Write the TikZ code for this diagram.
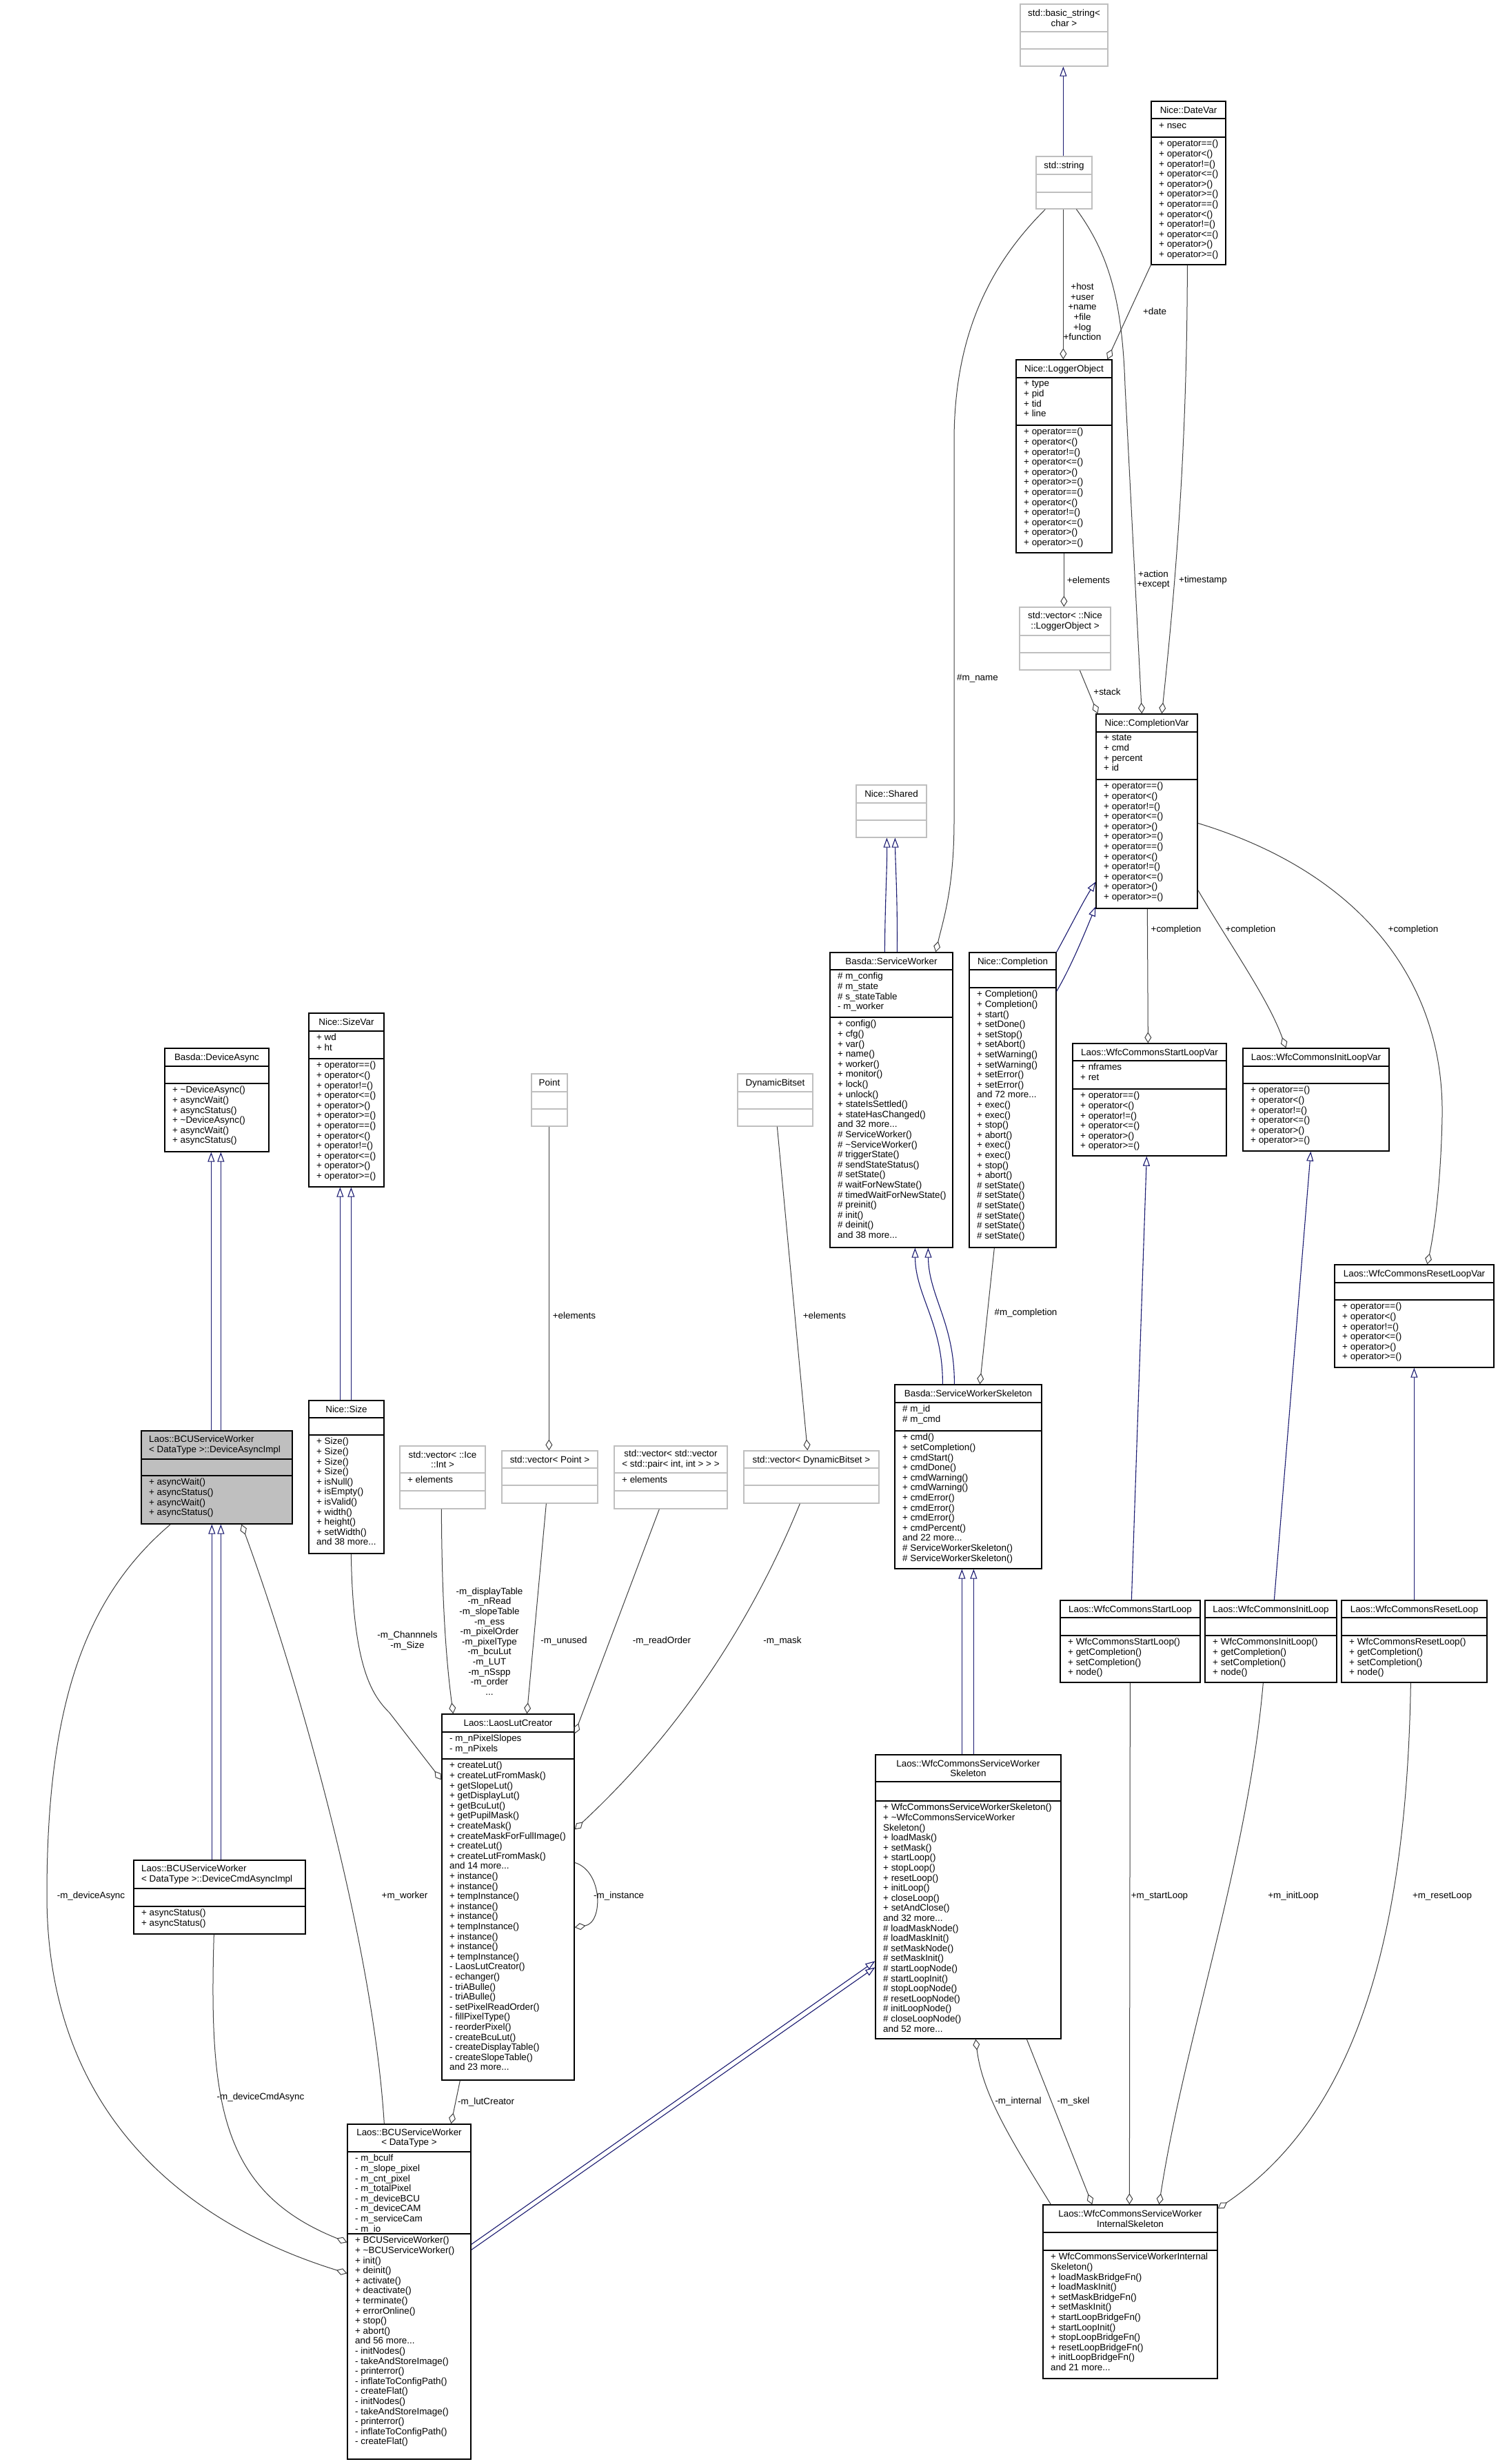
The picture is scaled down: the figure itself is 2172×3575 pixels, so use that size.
\documentclass[tikz,border=0pt]{standalone}
\usepackage{fontspec}
\setmainfont{Liberation Sans}
\usetikzlibrary{arrows.meta,fit}
\definecolor{inhblue}{RGB}{25,25,112}
\definecolor{edgegrey}{RGB}{64,64,64}
\definecolor{boxgrey}{RGB}{191,191,191}
\definecolor{hlfill}{RGB}{191,191,191}
\newcommand{\fs}{\fontsize{13.4}{14.6}\selectfont}
\newcommand{\opsA}{+ operator==()\\+ operator<()\\+ operator!=()\\+ operator<=()\\+ operator>()\\+ operator>=()}
\newcommand{\opsB}{\opsA\\\opsA}
\newcommand{\clsbox}[8]{%
  \node[#2, fit={(#3,#4) (#5,#6)}, inner sep=0pt] (#1) {};
  \draw[#2] (#3,#7) -- (#5,#7);
  \draw[#2] (#3,#8) -- (#5,#8);
}
\tikzset{
  cb/.style={draw=black, line width=1.3pt, fill=white},
  cg/.style={draw=boxgrey, line width=1.3pt, fill=white},
  ch/.style={draw=black, line width=1.3pt, fill=hlfill},
  ttl/.style={font=\fs, inner sep=0pt, align=center},
  ttlone/.style={font=\fs, inner sep=0pt, text height=9.6pt, text depth=0pt},
  txt/.style={font=\fs, inner sep=0pt, align=left, anchor=north west, execute at begin node=\strut},
  lab/.style={font=\fs, inner sep=0pt, align=center},
  inh/.style={draw=inhblue, line width=1.1pt, -{Triangle[open, length=14pt, width=10pt]}},
  comp/.style={draw=edgegrey, line width=1pt, -{Diamond[open, length=16pt, width=10pt]}},
}
\begin{document}
\begin{tikzpicture}[x=1pt,y=-1pt]
\useasboundingbox (0,0) rectangle (2172,3575);
\fill[white] (0,0) rectangle (2172,3575);

% ---------------- boxes ----------------
\clsbox{bstr}{cg}{1480}{6}{1607}{96}{46}{71}
\node[ttl] (bstr-t) at (1543.5,26) {std::basic\_string<\\char >};

\clsbox{str}{cg}{1503}{227}{1584}{303}{253}{279}
\node[ttlone] (str-t) at (1543.5,240) {std::string};

\clsbox{date}{cb}{1670}{147}{1778}{384}{172}{199}
\node[ttlone] (date-t) at (1724,159.5) {Nice::DateVar};
\node[txt] (date-a) at (1681,176) {+ nsec};
\node[txt] (date-m) at (1681,203) {\opsB};

\clsbox{log}{cb}{1474}{522}{1613}{802}{548}{617}
\node[ttlone] (log-t) at (1543.5,535) {Nice::LoggerObject};
\node[txt] (log-a) at (1485,552) {+ type\\+ pid\\+ tid\\+ line};
\node[txt] (log-m) at (1485,621) {\opsB};

\clsbox{vlog}{cg}{1479}{881}{1611}{972}{922}{947}
\node[ttl] (vlog-t) at (1545,901.5) {std::vector< ::Nice\\::LoggerObject >};

\clsbox{cv}{cb}{1590}{1036}{1737}{1318}{1062}{1131}
\node[ttlone] (cv-t) at (1663.5,1049) {Nice::CompletionVar};
\node[txt] (cv-a) at (1601,1066) {+ state\\+ cmd\\+ percent\\+ id};
\node[txt] (cv-m) at (1601,1135) {\opsB};

\clsbox{shared}{cg}{1242}{1139}{1344}{1215}{1165}{1190}
\node[ttlone] (shared-t) at (1293,1152) {Nice::Shared};

\clsbox{sw}{cb}{1204}{1382}{1382}{1810}{1407}{1476}
\node[ttlone] (sw-t) at (1293,1394.5) {Basda::ServiceWorker};
\node[txt] (sw-a) at (1215,1411) {\# m\_config\\\# m\_state\\\# s\_stateTable\\- m\_worker};
\node[txt] (sw-m) at (1215,1480) {+ config()\\+ cfg()\\+ var()\\+ name()\\+ worker()\\+ monitor()\\+ lock()\\+ unlock()\\+ stateIsSettled()\\+ stateHasChanged()\\and 32 more...\\\# ServiceWorker()\\\# \textasciitilde ServiceWorker()\\\# triggerState()\\\# sendStateStatus()\\\# setState()\\\# waitForNewState()\\\# timedWaitForNewState()\\\# preinit()\\\# init()\\\# deinit()\\and 38 more...};

\clsbox{comp}{cb}{1406}{1382}{1532}{1810}{1407}{1433}
\node[ttlone] (comp-t) at (1469,1394.5) {Nice::Completion};
\node[txt] (comp-m) at (1417,1437) {+ Completion()\\+ Completion()\\+ start()\\+ setDone()\\+ setStop()\\+ setAbort()\\+ setWarning()\\+ setWarning()\\+ setError()\\+ setError()\\and 72 more...\\+ exec()\\+ exec()\\+ stop()\\+ abort()\\+ exec()\\+ exec()\\+ stop()\\+ abort()\\\# setState()\\\# setState()\\\# setState()\\\# setState()\\\# setState()\\\# setState()};

\clsbox{sla}{cb}{239}{1521}{390}{1671}{1547}{1572}
\node[ttlone] (sla-t) at (314.5,1534) {Basda::DeviceAsync};
\node[txt] (sla-m) at (250,1576) {+ \textasciitilde DeviceAsync()\\+ asyncWait()\\+ asyncStatus()\\+ \textasciitilde DeviceAsync()\\+ asyncWait()\\+ asyncStatus()};

\clsbox{szv}{cb}{448}{1470}{557}{1722}{1496}{1536}
\node[ttlone] (szv-t) at (502.5,1483) {Nice::SizeVar};
\node[txt] (szv-a) at (459,1500) {+ wd\\+ ht};
\node[txt] (szv-m) at (459,1540) {\opsB};

\clsbox{sz}{cb}{448}{2032}{557}{2254}{2057}{2082}
\node[ttlone] (sz-t) at (502.5,2044.5) {Nice::Size};
\node[txt] (sz-m) at (459,2086) {+ Size()\\+ Size()\\+ Size()\\+ Size()\\+ isNull()\\+ isEmpty()\\+ isValid()\\+ width()\\+ height()\\+ setWidth()\\and 38 more...};

\clsbox{dai}{ch}{205}{2076}{424}{2211}{2117}{2141}
\node[ttl, align=left, anchor=west] (dai-t) at (216,2096.5) {Laos::BCUServiceWorker\\< DataType >::DeviceAsyncImpl};
\node[txt] (dai-m) at (216,2145) {+ asyncWait()\\+ asyncStatus()\\+ asyncWait()\\+ asyncStatus()};

\clsbox{dcai}{cb}{194}{2699}{443}{2806}{2740}{2766}
\node[ttl, align=left, anchor=west] (dcai-t) at (205,2719.5) {Laos::BCUServiceWorker\\< DataType >::DeviceCmdAsyncImpl};
\node[txt] (dcai-m) at (205,2770) {+ asyncStatus()\\+ asyncStatus()};

\clsbox{pt}{cg}{771}{1558}{823}{1634}{1584}{1609}
\node[ttlone] (pt-t) at (797,1571) {Point};

\clsbox{dbs}{cg}{1070}{1558}{1179}{1634}{1584}{1609}
\node[ttlone] (dbs-t) at (1124.5,1571) {DynamicBitset};

\clsbox{vint}{cg}{580}{2098}{704}{2189}{2137}{2163}
\node[ttl] (vint-t) at (642,2117.5) {std::vector< ::Ice\\::Int >};
\node[txt] (vint-a) at (591,2141) {+ elements};

\clsbox{vpt}{cg}{728}{2105}{867}{2181}{2130}{2155}
\node[ttlone] (vpt-t) at (797.5,2117.5) {std::vector< Point >};

\clsbox{vpair}{cg}{891}{2098}{1055}{2189}{2137}{2163}
\node[ttl] (vpair-t) at (973,2117.5) {std::vector< std::vector\\< std::pair< int, int > > >};
\node[txt] (vpair-a) at (902,2141) {+ elements};

\clsbox{vdbs}{cg}{1079}{2105}{1275}{2181}{2130}{2155}
\node[ttlone] (vdbs-t) at (1177,2117.5) {std::vector< DynamicBitset >};

\clsbox{lut}{cb}{641}{2487}{833}{3018}{2513}{2552}
\node[ttlone] (lut-t) at (737,2500) {Laos::LaosLutCreator};
\node[txt] (lut-a) at (652,2517) {- m\_nPixelSlopes\\- m\_nPixels};
\node[txt] (lut-m) at (652,2556) {+ createLut()\\+ createLutFromMask()\\+ getSlopeLut()\\+ getDisplayLut()\\+ getBcuLut()\\+ getPupilMask()\\+ createMask()\\+ createMaskForFullImage()\\+ createLut()\\+ createLutFromMask()\\and 14 more...\\+ instance()\\+ instance()\\+ tempInstance()\\+ instance()\\+ instance()\\+ tempInstance()\\+ instance()\\+ instance()\\+ tempInstance()\\- LaosLutCreator()\\- echanger()\\- triABulle()\\- triABulle()\\- setPixelReadOrder()\\- fillPixelType()\\- reorderPixel()\\- createBcuLut()\\- createDisplayTable()\\- createSlopeTable()\\and 23 more...};

\clsbox{bcu}{cb}{504}{3082}{683}{3568}{3122}{3241}
\node[ttl] (bcu-t) at (593.5,3102) {Laos::BCUServiceWorker\\< DataType >};
\node[txt] (bcu-a) at (515,3126) {- m\_bculf\\- m\_slope\_pixel\\- m\_cnt\_pixel\\- m\_totalPixel\\- m\_deviceBCU\\- m\_deviceCAM\\- m\_serviceCam\\- m\_io};
\node[txt] (bcu-m) at (515,3245) {+ BCUServiceWorker()\\+ \textasciitilde BCUServiceWorker()\\+ init()\\+ deinit()\\+ activate()\\+ deactivate()\\+ terminate()\\+ errorOnline()\\+ stop()\\+ abort()\\and 56 more...\\- initNodes()\\- takeAndStoreImage()\\- printerror()\\- inflateToConfigPath()\\- createFlat()\\- initNodes()\\- takeAndStoreImage()\\- printerror()\\- inflateToConfigPath()\\- createFlat()};

\clsbox{sws}{cb}{1298}{2009}{1511}{2276}{2035}{2076}
\node[ttlone] (sws-t) at (1404.5,2022) {Basda::ServiceWorkerSkeleton};
\node[txt] (sws-a) at (1309,2039) {\# m\_id\\\# m\_cmd};
\node[txt] (sws-m) at (1309,2080) {+ cmd()\\+ setCompletion()\\+ cmdStart()\\+ cmdDone()\\+ cmdWarning()\\+ cmdWarning()\\+ cmdError()\\+ cmdError()\\+ cmdError()\\+ cmdPercent()\\and 22 more...\\\# ServiceWorkerSkeleton()\\\# ServiceWorkerSkeleton()};

\clsbox{wfc}{cb}{1270}{2546}{1539}{2958}{2585}{2613}
\node[ttl] (wfc-t) at (1404.5,2565.5) {Laos::WfcCommonsServiceWorker\\Skeleton};
\node[txt] (wfc-m) at (1281,2617) {+ WfcCommonsServiceWorkerSkeleton()\\+ \textasciitilde WfcCommonsServiceWorker\\Skeleton()\\+ loadMask()\\+ setMask()\\+ startLoop()\\+ stopLoop()\\+ resetLoop()\\+ initLoop()\\+ closeLoop()\\+ setAndClose()\\and 32 more...\\\# loadMaskNode()\\\# loadMaskInit()\\\# setMaskNode()\\\# setMaskInit()\\\# startLoopNode()\\\# startLoopInit()\\\# stopLoopNode()\\\# resetLoopNode()\\\# initLoopNode()\\\# closeLoopNode()\\and 52 more...};

\clsbox{slv}{cb}{1556}{1514}{1779}{1677}{1539}{1580}
\node[ttlone] (slv-t) at (1667.5,1526.5) {Laos::WfcCommonsStartLoopVar};
\node[txt] (slv-a) at (1567,1543) {+ nframes\\+ ret};
\node[txt] (slv-m) at (1567,1584) {\opsA};

\clsbox{ilv}{cb}{1803}{1521}{2015}{1670}{1547}{1572}
\node[ttlone] (ilv-t) at (1909,1534) {Laos::WfcCommonsInitLoopVar};
\node[txt] (ilv-m) at (1814,1576) {\opsA};

\clsbox{rlv}{cb}{1936}{1835}{2167}{1984}{1861}{1886}
\node[ttlone] (rlv-t) at (2051.5,1848) {Laos::WfcCommonsResetLoopVar};
\node[txt] (rlv-m) at (1947,1890) {\opsA};

\clsbox{sl}{cb}{1538}{2322}{1741}{2441}{2347}{2373}
\node[ttlone] (sl-t) at (1639.5,2334.5) {Laos::WfcCommonsStartLoop};
\node[txt] (sl-m) at (1549,2377) {+ WfcCommonsStartLoop()\\+ getCompletion()\\+ setCompletion()\\+ node()};

\clsbox{il}{cb}{1748}{2322}{1939}{2441}{2347}{2373}
\node[ttlone] (il-t) at (1843.5,2334.5) {Laos::WfcCommonsInitLoop};
\node[txt] (il-m) at (1759,2377) {+ WfcCommonsInitLoop()\\+ getCompletion()\\+ setCompletion()\\+ node()};

\clsbox{rl}{cb}{1946}{2322}{2157}{2441}{2347}{2373}
\node[ttlone] (rl-t) at (2051.5,2334.5) {Laos::WfcCommonsResetLoop};
\node[txt] (rl-m) at (1957,2377) {+ WfcCommonsResetLoop()\\+ getCompletion()\\+ setCompletion()\\+ node()};

\clsbox{isk}{cb}{1513}{3199}{1766}{3451}{3239}{3265}
\node[ttl] (isk-t) at (1639.5,3219) {Laos::WfcCommonsServiceWorker\\InternalSkeleton};
\node[txt] (isk-m) at (1524,3269) {+ WfcCommonsServiceWorkerInternal\\Skeleton()\\+ loadMaskBridgeFn()\\+ loadMaskInit()\\+ setMaskBridgeFn()\\+ setMaskInit()\\+ startLoopBridgeFn()\\+ startLoopInit()\\+ stopLoopBridgeFn()\\+ resetLoopBridgeFn()\\+ initLoopBridgeFn()\\and 21 more...};

% ---------------- connectors ----------------
\draw[inh] ([shift={(40,0)}]str.north west) -- ([shift={(63,0)}]bstr.south west);
\draw[comp] ([shift={(40,0)}]str.south west) -- ([shift={(69,0)}]log.north west);
\draw[comp] ([shift={(14,0)}]str.south west) .. controls (1440,380) and (1384,480) .. (1384,640) -- (1384,1190) .. controls (1384,1290) and (1368,1335) .. ([shift={(154,0)}]sw.north west);
\draw[comp] ([shift={(59,0)}]str.south west) .. controls (1610,370) and (1628,440) .. (1632,560) -- ([shift={(67,0)}]cv.north west);
\draw[comp] (date.south west) -- ([shift={(133,0)}]log.north west);
\draw[comp] ([shift={(53,0)}]date.south west) .. controls (1722,650) and (1705,850) .. ([shift={(96,0)}]cv.north west);
\draw[comp] ([shift={(70,0)}]log.south west) -- ([shift={(65,0)}]vlog.north west);
\draw[comp] ([shift={(88,0)}]vlog.south west) -- ([shift={(3,0)}]cv.north west);
\draw[inh] ([shift={(80,0)}]sw.north west) .. controls (1284,1300) and (1287,1260) .. ([shift={(45,0)}]shared.south west);
\draw[inh] ([shift={(98,0)}]sw.north west) .. controls (1302,1300) and (1299,1260) .. ([shift={(57,0)}]shared.south west);
\draw[inh] (comp.north east) .. controls (1550,1350) and (1570,1310) .. ([shift={(0,244)}]cv.north west);
\draw[inh] ([shift={(0,57)}]comp.north east) .. controls (1555,1400) and (1575,1350) .. ([shift={(0,280)}]cv.north west);
\draw[comp] ([shift={(75,0)}]cv.south west) -- ([shift={(110,0)}]slv.north west);
\draw[comp] ([shift={(0,256)}]cv.north east) .. controls (1790,1380) and (1840,1450) .. ([shift={(63,0)}]ilv.north west);
\draw[comp] ([shift={(0,159)}]cv.north east) .. controls (1970,1265) and (2095,1420) .. (2092,1620) .. controls (2090,1720) and (2080,1790) .. ([shift={(135,0)}]rlv.north west);
\draw[inh] ([shift={(70,0)}]sws.north west) .. controls (1368,1920) and (1328,1880) .. ([shift={(124,0)}]sw.south west);
\draw[inh] ([shift={(87,0)}]sws.north west) .. controls (1385,1920) and (1347,1880) .. ([shift={(143,0)}]sw.south west);
\draw[comp] ([shift={(37,0)}]comp.south west) -- ([shift={(124,0)}]sws.north west);
\draw[inh] ([shift={(126,0)}]wfc.north west) -- ([shift={(98,0)}]sws.south west);
\draw[inh] ([shift={(143,0)}]wfc.north west) -- ([shift={(115,0)}]sws.south west);
\draw[inh] ([shift={(0,175)}]bcu.north east) -- ([shift={(0,300)}]wfc.north west);
\draw[inh] ([shift={(0,183)}]bcu.north east) -- ([shift={(0,309)}]wfc.north west);
\draw[comp] ([shift={(12,0)}]isk.north west) .. controls (1470,3110) and (1425,3040) .. ([shift={(146,0)}]wfc.south west);
\draw[comp] ([shift={(220,0)}]wfc.south west) -- ([shift={(72,0)}]isk.north west);
\draw[comp] ([shift={(102,0)}]sl.south west) -- ([shift={(126,0)}]isk.north west);
\draw[comp] ([shift={(85,0)}]il.south west) .. controls (1810,2700) and (1720,2950) .. ([shift={(169,0)}]isk.north west);
\draw[comp] ([shift={(101,0)}]rl.south west) .. controls (2040,2850) and (1950,3080) .. ([shift={(0,6)}]isk.north east);
\draw[inh] ([shift={(104,0)}]sl.north west) -- ([shift={(108,0)}]slv.south west);
\draw[inh] ([shift={(101,0)}]il.north west) -- ([shift={(99,0)}]ilv.south west);
\draw[inh] ([shift={(106,0)}]rl.north west) -- ([shift={(116,0)}]rlv.south west);
\draw[inh] ([shift={(102,0)}]dai.north west) -- ([shift={(68,0)}]sla.south west);
\draw[inh] ([shift={(116,0)}]dai.north west) -- ([shift={(82,0)}]sla.south west);
\draw[inh] ([shift={(46,0)}]sz.north west) -- ([shift={(46,0)}]szv.south west);
\draw[inh] ([shift={(62,0)}]sz.north west) -- ([shift={(62,0)}]szv.south west);
\draw[inh] ([shift={(114,0)}]dcai.north west) -- ([shift={(103,0)}]dai.south west);
\draw[inh] ([shift={(127,0)}]dcai.north west) -- ([shift={(116,0)}]dai.south west);
\draw[comp] ([shift={(43,0)}]dai.south west) .. controls (120,2320) and (68,2480) .. (68,2750) .. controls (68,3050) and (250,3220) .. ([shift={(0,217)}]bcu.north west);
\draw[comp] ([shift={(117,0)}]dcai.south west) .. controls (303,3050) and (320,3180) .. ([shift={(0,172)}]bcu.north west);
\draw[comp] ([shift={(54,0)}]bcu.north west) .. controls (540,2800) and (420,2400) .. ([shift={(146,0)}]dai.south west);
\draw[comp] ([shift={(62,0)}]sz.south west) .. controls (512,2420) and (540,2460) .. (565,2485) -- ([shift={(0,96)}]lut.north west);
\draw[comp] ([shift={(61,0)}]vint.south west) .. controls (641,2350) and (650,2430) .. ([shift={(17,0)}]lut.north west);
\draw[comp] ([shift={(65,0)}]vpt.south west) -- ([shift={(124,0)}]lut.north west);
\draw[comp] ([shift={(66,0)}]vpair.south west) -- ([shift={(0,29)}]lut.north east);
\draw[comp] ([shift={(82,0)}]vdbs.south west) .. controls (1100,2330) and (1000,2500) .. ([shift={(0,168)}]lut.north east);
\draw[comp] ([shift={(0,216)}]lut.north east) .. controls (875,2715) and (875,2790) .. ([shift={(0,310)}]lut.north east);
\draw[comp] ([shift={(27,0)}]lut.south west) -- ([shift={(151,0)}]bcu.north west);
\draw[comp] ([shift={(26,0)}]pt.south west) -- ([shift={(69,0)}]vpt.north west);
\draw[comp] ([shift={(58,0)}]dbs.south west) -- ([shift={(93,0)}]vdbs.north west);

% ---------------- labels ----------------
\node[lab] (l-host) at (1570,452.5) {+host\\+user\\+name\\+file\\+log\\+function};
\node[lab] (l-date) at (1675,452) {+date};
\node[lab] (l-el1) at (1579,842) {+elements};
\node[lab] (l-act) at (1673,841) {+action\\+except};
\node[lab] (l-ts) at (1745,842) {+timestamp};
\node[lab] (l-name) at (1418,984) {\#m\_name};
\node[lab] (l-stack) at (1606,1004) {+stack};
\node[lab] (l-c1) at (1706,1349) {+completion};
\node[lab] (l-c2) at (1814,1349) {+completion};
\node[lab] (l-c3) at (2050,1349) {+completion};
\node[lab] (l-mc) at (1488,1905) {\#m\_completion};
\node[lab] (l-el2) at (833,1909) {+elements};
\node[lab] (l-el3) at (1196,1909) {+elements};
\node[lab] (l-chan) at (591,2380.5) {-m\_Channnels\\-m\_Size};
\node[lab] (l-disp) at (710,2381.5) {-m\_displayTable\\-m\_nRead\\-m\_slopeTable\\-m\_ess\\-m\_pixelOrder\\-m\_pixelType\\-m\_bcuLut\\-m\_LUT\\-m\_nSspp\\-m\_order\\...};
\node[lab] (l-unused) at (818,2381) {-m\_unused};
\node[lab] (l-ro) at (960,2381) {-m\_readOrder};
\node[lab] (l-mask) at (1135,2381) {-m\_mask};
\node[lab, anchor=west] (l-inst) at (861,2751) {-m\_instance};
\node[lab] (l-worker) at (587,2751) {+m\_worker};
\node[lab] (l-da) at (132,2751) {-m\_deviceAsync};
\node[lab] (l-dca) at (378,3043) {-m\_deviceCmdAsync};
\node[lab, anchor=west] (l-lut) at (664,3050) {-m\_lutCreator};
\node[lab] (l-int) at (1477,3049) {-m\_internal};
\node[lab] (l-skel) at (1557,3049) {-m\_skel};
\node[lab] (l-sl) at (1682,2751) {+m\_startLoop};
\node[lab] (l-il) at (1876,2751) {+m\_initLoop};
\node[lab] (l-rl) at (2092,2751) {+m\_resetLoop};
\end{tikzpicture}
\end{document}
